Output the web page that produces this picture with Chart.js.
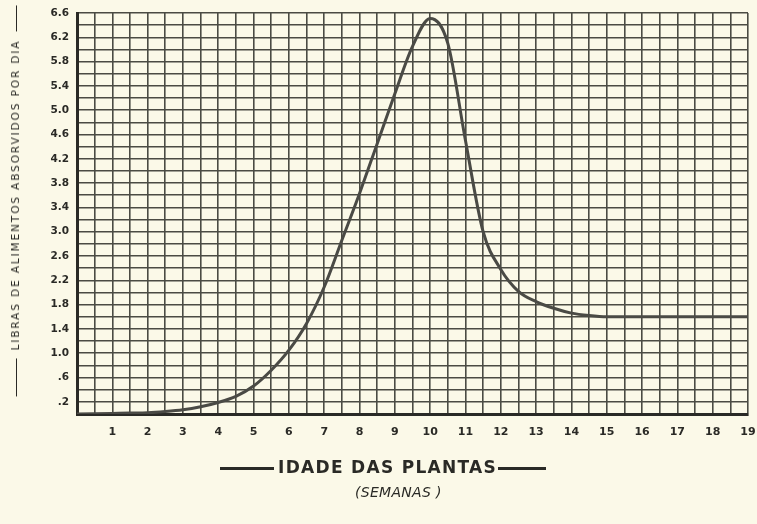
<!DOCTYPE html>
<html>
<head>
<meta charset="utf-8">
<script src="https://cdn.jsdelivr.net/npm/chart.js@4.4.1/dist/chart.umd.min.js"></script>
<style>
  html, body { margin: 0; padding: 0; background: #fbf9e8; }
  #wrap { position: relative; width: 757px; height: 524px; overflow: hidden; }
  #grafico { position: absolute; left: 0; top: 0; }
  .titulo { position: absolute; color: #2a2a26; font-family: "DejaVu Sans", sans-serif; white-space: nowrap; }
  .traco { display: inline-block; border-top: 3px solid #2a2a26; vertical-align: middle; }
  #tituloX { left: 220px; top: 457px; font-size: 17px; font-weight: bold; letter-spacing: 1.3px; }
  #subtituloX { left: 355px; top: 484px; font-size: 14px; font-style: italic; letter-spacing: 0.3px; }
  #tituloY { left: 15px; top: 201px; font-size: 10.5px; letter-spacing: 1.9px;
             transform: translate(-50%, -50%) rotate(-90deg); }
</style>
</head>
<body>
<div id="wrap">
  <canvas id="grafico" width="757" height="524"></canvas>
  <div class="titulo" id="tituloX"><span class="traco" style="width:54px;margin-right:4px"></span>IDADE DAS PLANTAS<span class="traco" style="width:48px;margin-left:1px"></span></div>
  <div class="titulo" id="subtituloX">(SEMANAS )</div>
  <div class="titulo" id="tituloY"><span class="traco" style="width:38px;border-top-width:1.5px;margin-right:8px"></span>LIBRAS DE ALIMENTOS ABSORVIDOS POR DIA<span class="traco" style="width:26px;border-top-width:1.5px;margin-left:8px"></span></div>
</div>
<script>
// semanas (eixo x) e libras absorvidas por dia (eixo y)
const semanas = [0, 0.5, 1, 1.5, 2, 2.5, 3, 3.5, 4, 4.5, 5, 5.5, 6, 6.5, 7, 7.5, 8, 8.5, 9, 9.5,
                 10, 10.5, 11, 11.5, 12, 12.5, 13, 13.5, 14, 14.5, 15, 15.5, 16, 16.5, 17, 17.5, 18, 18.5, 19];
const libras = [0, 0.005, 0.01, 0.015, 0.02, 0.04, 0.07, 0.12, 0.19, 0.29, 0.46, 0.72, 1.05, 1.49, 2.09, 2.86, 3.63, 4.45, 5.27, 6.05,
                6.51, 6.1, 4.5, 3.0, 2.38, 2.02, 1.85, 1.74, 1.66, 1.62, 1.6, 1.6, 1.6, 1.6, 1.6, 1.6, 1.6, 1.6, 1.6];

const xTickValores = [1, 2, 3, 4, 5, 6, 7, 8, 9, 10, 11, 12, 13, 14, 15, 16, 17, 18, 19];
const xTickTextos = ["1", "2", "3", "4", "5", "6", "7", "8", "9", "10", "11", "12", "13", "14", "15", "16", "17", "18", "19"];
const yTickValores = [0.2, 0.6, 1.0, 1.4, 1.8, 2.2, 2.6, 3.0, 3.4, 3.8, 4.2, 4.6, 5.0, 5.4, 5.8, 6.2, 6.6];
const yTickTextos = [".2", ".6", "1.0", "1.4", "1.8", "2.2", "2.6", "3.0", "3.4", "3.8", "4.2", "4.6", "5.0", "5.4", "5.8", "6.2", "6.6"];

const corGrade = "#4b4b43";
const corTexto = "#2a2a26";

function rotulo(valores, textos) {
  return function (valor) {
    const i = valores.findIndex(v => Math.abs(v - valor) < 1e-6);
    return i >= 0 ? textos[i] : "";
  };
}

const fundo = {
  id: "fundo",
  beforeDraw(chart) {
    const ctx = chart.ctx;
    ctx.save();
    ctx.fillStyle = "#fbf9e8";
    ctx.fillRect(0, 0, chart.width, chart.height);
    ctx.restore();
  }
};

const ctx = document.getElementById("grafico").getContext("2d");
new Chart(ctx, {
  type: "line",
  data: {
    datasets: [{
      data: semanas.map((s, i) => ({ x: s, y: libras[i] })),
      borderColor: "#4a4a45",
      borderWidth: 3,
      pointRadius: 0,
      fill: false,
      cubicInterpolationMode: "monotone"
    }]
  },
  options: {
    responsive: false,
    animation: false,
    layout: { padding: { left: 0, right: 9, top: 13, bottom: 0 } },
    plugins: { legend: { display: false }, tooltip: { enabled: false } },
    scales: {
      x: {
        type: "linear",
        min: 0,
        max: 19,
        afterFit(scale) {
          scale.height = 110;
          scale.paddingLeft = 0;
          scale.paddingRight = 0;
        },
        ticks: {
          stepSize: 0.5,
          autoSkip: false,
          maxRotation: 0,
          padding: 12,
          color: corTexto,
          font: { family: "DejaVu Sans", size: 11, weight: "bold" },
          callback: rotulo(xTickValores, xTickTextos)
        },
        grid: { color: corGrade, lineWidth: 1.6, drawTicks: false },
        border: { color: "#2a2a26", width: 3 }
      },
      y: {
        min: 0,
        max: 6.6,
        afterFit(scale) {
          scale.width = 77;
          scale.paddingTop = 0;
          scale.paddingBottom = 0;
        },
        ticks: {
          stepSize: 0.2,
          autoSkip: false,
          padding: 8,
          color: corTexto,
          font: { family: "DejaVu Sans", size: 10.5, weight: "bold" },
          callback: rotulo(yTickValores, yTickTextos)
        },
        grid: { color: corGrade, lineWidth: 1.6, drawTicks: false },
        border: { color: "#2a2a26", width: 3 }
      }
    }
  },
  plugins: [fundo]
});
</script>
</body>
</html>
